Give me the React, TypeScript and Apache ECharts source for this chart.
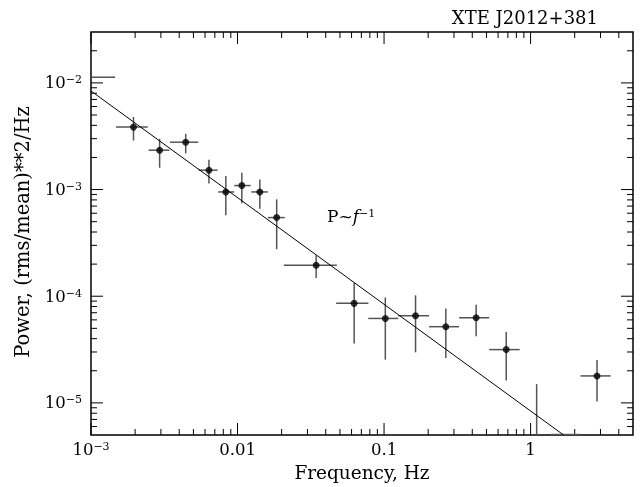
import React, { useEffect, useRef } from "react";
import * as echarts from "echarts";

// ---- data ----
const freq = [1.95e-3, 2.94e-3, 4.43e-3, 6.38e-3, 8.32e-3, 1.07e-2, 1.42e-2, 1.85e-2, 3.44e-2, 6.25e-2, 0.102, 0.164, 0.264, 0.425, 0.682, 2.84];
const freqLo = [1.48e-3, 2.47e-3, 3.46e-3, 5.43e-3, 7.38e-3, 9.49e-3, 1.24e-2, 1.61e-2, 2.07e-2, 4.71e-2, 0.078, 0.125, 0.203, 0.325, 0.522, 2.19];
const freqHi = [2.44e-3, 3.43e-3, 5.4e-3, 7.31e-3, 9.49e-3, 1.23e-2, 1.61e-2, 2.1e-2, 4.76e-2, 7.82e-2, 0.125, 0.203, 0.325, 0.522, 0.842, 3.52];
const power = [3.85e-3, 2.34e-3, 2.78e-3, 1.52e-3, 9.5e-4, 1.09e-3, 9.5e-4, 5.46e-4, 1.95e-4, 8.57e-5, 6.19e-5, 6.56e-5, 5.18e-5, 6.28e-5, 3.16e-5, 1.79e-5];
const powerLo = [2.88e-3, 1.6e-3, 2.18e-3, 1.14e-3, 5.74e-4, 7.43e-4, 6.62e-4, 2.76e-4, 1.48e-4, 3.61e-5, 2.54e-5, 2.98e-5, 2.64e-5, 4.21e-5, 1.62e-5, 1.03e-5];
const powerHi = [4.8e-3, 2.99e-3, 3.33e-3, 1.9e-3, 1.34e-3, 1.44e-3, 1.24e-3, 8.1e-4, 2.42e-4, 1.33e-4, 9.75e-5, 1.02e-4, 7.69e-5, 8.31e-5, 4.65e-5, 2.52e-5];

// partly visible bars at the plot edges: [f1, P1, f2, P2]
const edgeSegments = [
  [1e-3, 1.13e-2, 1.46e-3, 1.13e-2],
  [1.1, 5e-6, 1.1, 1.5e-5],
  [1.37, 5.05e-6, 2.19, 5.05e-6],
];

// power-law model P = A / f
const fitNorm = 8.4e-6;
const fitFreq = [1e-3, 1.68];

const X_MIN = 1e-3;
const X_MAX = 5;
const Y_MIN = 5e-6;
const Y_MAX = 3e-2;

const xMajor = [1e-3, 1e-2, 0.1, 1];
const yMajor = [1e-5, 1e-4, 1e-3, 1e-2];
const xDecades = [-3, -2, -1, 0];
const yDecades = [-6, -5, -4, -3, -2];
const mantissas = [2, 3, 4, 5, 6, 7, 8, 9];

const FONT = "DejaVu Serif";

export default function App() {
  const ref = useRef<HTMLDivElement>(null);
  useEffect(() => {
    if (!ref.current) return;
    const chart = echarts.init(ref.current, undefined, { renderer: "svg" });

    const xMinor: number[] = [];
    xDecades.forEach((d) => mantissas.forEach((m) => {
      const v = m * Math.pow(10, d);
      if (v > X_MIN && v < X_MAX) xMinor.push(v);
    }));
    const yMinor: number[] = [];
    yDecades.forEach((d) => mantissas.forEach((m) => {
      const v = m * Math.pow(10, d);
      if (v > Y_MIN && v < Y_MAX) yMinor.push(v);
    }));

    const xTickData = [
      ...xMajor.map((v) => [v, 1e-4, 1]),
      ...xMinor.map((v) => [v, 1e-4, 0]),
    ];
    const yTickData = [
      ...yMajor.map((v) => [1e-2, v, 1]),
      ...yMinor.map((v) => [1e-2, v, 0]),
    ];

    const errData = freq.map((f, i) => [f, power[i], freqLo[i], freqHi[i], powerLo[i], powerHi[i]]);
    const fitData = fitFreq.map((f) => [f, fitNorm / f]);

    const isDecade = (v: number) => Math.abs(Math.log10(v) - Math.round(Math.log10(v))) < 1e-6;

    const tickStyle = { stroke: "#000", lineWidth: 1 };
    const barStyle = { stroke: "#555", lineWidth: 1.5 };

    const richTick = {
      b: { fontFamily: FONT, fontSize: 16.5, color: "#000" },
      s: { fontFamily: FONT, fontSize: 11, color: "#000", verticalAlign: "top" },
    };

    chart.setOption({
      animation: false,
      grid: {
        left: 91, right: 7, top: 32, bottom: 52,
        show: true, borderColor: "#000", borderWidth: 1.5, backgroundColor: "transparent",
      },
      xAxis: {
        type: "log", logBase: 10, min: X_MIN, max: X_MAX,
        axisLine: { show: false }, axisTick: { show: false }, splitLine: { show: false },
        axisLabel: {
          customValues: xMajor,
          margin: 6,
          fontFamily: FONT, fontSize: 16.5, color: "#000",
          formatter: (v: number) => {
            if (!isDecade(v)) return "";
            const e = Math.round(Math.log10(v));
            if (e === -3) return "{b|10}{s|\u22123}";
            if (e === -2) return "0.01";
            if (e === -1) return "0.1";
            if (e === 0) return "1";
            return "";
          },
          rich: richTick,
        },
      },
      yAxis: {
        type: "log", logBase: 10, min: Y_MIN, max: Y_MAX,
        axisLine: { show: false }, axisTick: { show: false }, splitLine: { show: false },
        axisLabel: {
          customValues: yMajor,
          margin: 9,
          fontFamily: FONT, fontSize: 16.5, color: "#000",
          formatter: (v: number) => {
            if (!isDecade(v)) return "";
            const e = Math.round(Math.log10(v));
            return "{b|10}{s|\u2212" + Math.abs(e) + "}";
          },
          rich: richTick,
        },
      },
      series: [
        {
          type: "custom",
          clip: false,
          silent: true,
          data: xTickData,
          renderItem: (params: any, api: any) => {
            const cs = params.coordSys;
            const px = api.coord([api.value(0), api.value(1)])[0];
            const len = api.value(2) ? 12 : 6;
            const b = cs.y + cs.height;
            return {
              type: "group",
              children: [
                { type: "line", shape: { x1: px, y1: b, x2: px, y2: b - len }, style: tickStyle },
                { type: "line", shape: { x1: px, y1: cs.y, x2: px, y2: cs.y + len }, style: tickStyle },
              ],
            };
          },
        },
        {
          type: "custom",
          clip: false,
          silent: true,
          data: yTickData,
          renderItem: (params: any, api: any) => {
            const cs = params.coordSys;
            const py = api.coord([api.value(0), api.value(1)])[1];
            const len = api.value(2) ? 12 : 6;
            const r = cs.x + cs.width;
            return {
              type: "group",
              children: [
                { type: "line", shape: { x1: cs.x, y1: py, x2: cs.x + len, y2: py }, style: tickStyle },
                { type: "line", shape: { x1: r, y1: py, x2: r - len, y2: py }, style: tickStyle },
              ],
            };
          },
        },
        {
          type: "custom",
          clip: true,
          silent: true,
          data: errData,
          renderItem: (_params: any, api: any) => {
            const f = api.value(0), p = api.value(1);
            const c = api.coord([f, p]);
            const l = api.coord([api.value(2), p]);
            const r = api.coord([api.value(3), p]);
            const lo = api.coord([f, api.value(4)]);
            const hi = api.coord([f, api.value(5)]);
            return {
              type: "group",
              children: [
                { type: "line", shape: { x1: l[0], y1: c[1], x2: r[0], y2: c[1] }, style: barStyle },
                { type: "line", shape: { x1: c[0], y1: lo[1], x2: c[0], y2: hi[1] }, style: barStyle },
              ],
            };
          },
        },
        {
          type: "custom",
          clip: true,
          silent: true,
          data: edgeSegments,
          renderItem: (_params: any, api: any) => {
            const a = api.coord([api.value(0), api.value(1)]);
            const b = api.coord([api.value(2), api.value(3)]);
            return { type: "line", shape: { x1: a[0], y1: a[1], x2: b[0], y2: b[1] }, style: { stroke: "#555", lineWidth: 1.5 } };
          },
        },
        {
          type: "line",
          data: fitData,
          showSymbol: false,
          symbol: "none",
          silent: true,
          lineStyle: { color: "#000", width: 1 },
        },
        {
          type: "scatter",
          data: freq.map((f, i) => [f, power[i]]),
          symbol: "circle",
          symbolSize: 7,
          itemStyle: { color: "#000" },
          silent: true,
        },
      ],
      graphic: [
        {
          type: "text", x: 598, y: 17,
          style: { text: "XTE J2012+381", fontFamily: FONT, fontSize: 18, fill: "#000", align: "right", verticalAlign: "middle" },
        },
        {
          type: "text", x: 362, y: 472,
          style: { text: "Frequency, Hz", fontFamily: FONT, fontSize: 18.5, fill: "#000", align: "center", verticalAlign: "middle" },
        },
        {
          type: "text", x: 22, y: 232, rotation: Math.PI / 2,
          style: { text: "Power, (rms/mean)**2/Hz", fontFamily: FONT, fontSize: 19.5, fill: "#000", align: "center", verticalAlign: "middle" },
        },
        {
          type: "text", x: 327, y: 216,
          style: {
            text: "{n|P~}{i|f}{s|\u22121}",
            align: "left", verticalAlign: "middle",
            rich: {
              n: { fontFamily: FONT, fontSize: 17, fill: "#000" },
              i: { fontFamily: FONT, fontSize: 17, fontStyle: "italic", fill: "#000" },
              s: { fontFamily: FONT, fontSize: 11, fill: "#000", verticalAlign: "top" },
            },
          },
        },
      ],
    });
    return () => chart.dispose();
  }, []);
  return <div ref={ref} style={{ position: "fixed", left: 0, top: 0, width: 640, height: 487 }} />;
}
